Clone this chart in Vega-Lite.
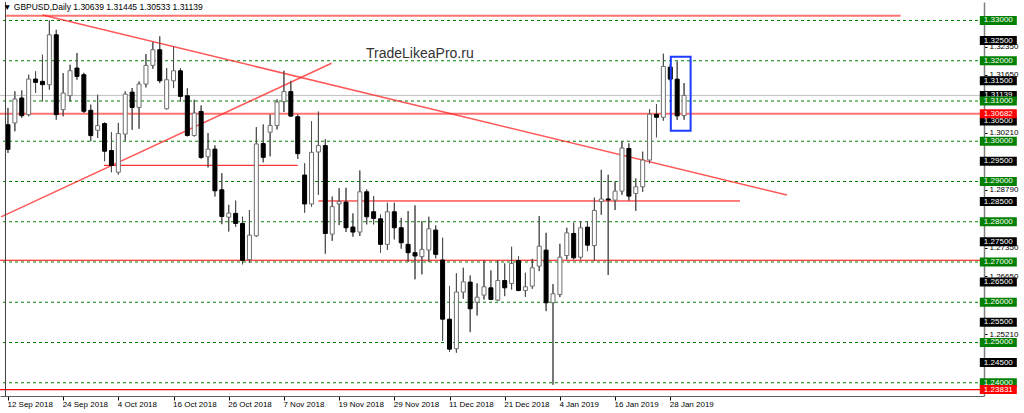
{
  "$schema": "https://vega.github.io/schema/vega-lite/v6.json",
  "width": 984,
  "height": 394,
  "autosize": {"type": "none"},
  "padding": {"left": 0, "top": 2, "right": 40, "bottom": 17},
  "background": "white",
  "config": {
    "view": {"stroke": null},
    "font": "Liberation Sans",
    "axis": {"grid": false, "labelFont": "Liberation Sans", "labelFontSize": 8, "labelColor": "#000000", "tickColor": "#000000", "labelOverlap": false, "labelFlush": false, "labelBound": false}
  },
  "title": {"text": "▼ GBPUSD,Daily 1.30639 1.31445 1.30533 1.31139", "anchor": "start", "orient": "top", "offset": 0, "baseline": "bottom", "dx": 4, "dy": 19, "fontSize": 8.5, "font": "Liberation Sans", "fontWeight": "normal", "color": "#000000"},
  "datasets": {
    "candles": [
      {"bar":0,"date":"2018-09-12","o":1.3041,"h":1.3083,"l":1.2971,"c":1.2980},
      {"bar":1,"date":"2018-09-13","o":1.30455,"h":1.3124,"l":1.30248,"c":1.3105},
      {"bar":2,"date":"2018-09-14","o":1.31074,"h":1.31264,"l":1.30579,"c":1.30636},
      {"bar":3,"date":"2018-09-17","o":1.30661,"h":1.31653,"l":1.3062,"c":1.31545},
      {"bar":4,"date":"2018-09-18","o":1.31545,"h":1.31736,"l":1.31198,"c":1.31463},
      {"bar":5,"date":"2018-09-19","o":1.31488,"h":1.32149,"l":1.30992,"c":1.31405},
      {"bar":6,"date":"2018-09-20","o":1.31405,"h":1.33,"l":1.31281,"c":1.32645},
      {"bar":7,"date":"2018-09-21","o":1.32645,"h":1.32769,"l":1.30537,"c":1.30661},
      {"bar":8,"date":"2018-09-24","o":1.30785,"h":1.31694,"l":1.3062,"c":1.31198},
      {"bar":9,"date":"2018-09-25","o":1.31132,"h":1.31901,"l":1.30992,"c":1.31752},
      {"bar":10,"date":"2018-09-26","o":1.31818,"h":1.3219,"l":1.31529,"c":1.31612},
      {"bar":11,"date":"2018-09-27","o":1.31653,"h":1.317,"l":1.30702,"c":1.30744},
      {"bar":12,"date":"2018-09-28","o":1.30769,"h":1.3091,"l":1.3,"c":1.3014},
      {"bar":13,"date":"2018-10-01","o":1.30273,"h":1.31157,"l":1.30083,"c":1.30388},
      {"bar":14,"date":"2018-10-02","o":1.30438,"h":1.3047,"l":1.29504,"c":1.29752},
      {"bar":15,"date":"2018-10-03","o":1.29769,"h":1.30223,"l":1.29231,"c":1.29397},
      {"bar":16,"date":"2018-10-04","o":1.29231,"h":1.30455,"l":1.29174,"c":1.3019},
      {"bar":17,"date":"2018-10-05","o":1.30177,"h":1.31238,"l":1.30012,"c":1.31171},
      {"bar":18,"date":"2018-10-08","o":1.31221,"h":1.3132,"l":1.30285,"c":1.3084},
      {"bar":19,"date":"2018-10-09","o":1.3084,"h":1.31486,"l":1.3031,"c":1.3142},
      {"bar":20,"date":"2018-10-10","o":1.3142,"h":1.32166,"l":1.31337,"c":1.31884},
      {"bar":21,"date":"2018-10-11","o":1.31884,"h":1.32464,"l":1.31801,"c":1.32273},
      {"bar":22,"date":"2018-10-12","o":1.32273,"h":1.32605,"l":1.31445,"c":1.31503},
      {"bar":23,"date":"2018-10-15","o":1.30807,"h":1.31818,"l":1.3079,"c":1.31528},
      {"bar":24,"date":"2018-10-16","o":1.31503,"h":1.32356,"l":1.31321,"c":1.31751},
      {"bar":25,"date":"2018-10-17","o":1.31751,"h":1.31818,"l":1.30989,"c":1.31114},
      {"bar":26,"date":"2018-10-18","o":1.3113,"h":1.3132,"l":1.30119,"c":1.30144},
      {"bar":27,"date":"2018-10-19","o":1.30144,"h":1.31031,"l":1.30119,"c":1.30699},
      {"bar":28,"date":"2018-10-22","o":1.30741,"h":1.3089,"l":1.29564,"c":1.29597},
      {"bar":29,"date":"2018-10-23","o":1.29614,"h":1.30202,"l":1.29349,"c":1.29804},
      {"bar":30,"date":"2018-10-24","o":1.29804,"h":1.29896,"l":1.28628,"c":1.28769},
      {"bar":31,"date":"2018-10-25","o":1.28794,"h":1.29208,"l":1.2794,"c":1.28131},
      {"bar":32,"date":"2018-10-26","o":1.28114,"h":1.28421,"l":1.27758,"c":1.28214},
      {"bar":33,"date":"2018-10-29","o":1.28208,"h":1.28525,"l":1.27875,"c":1.27958},
      {"bar":34,"date":"2018-10-30","o":1.27958,"h":1.28125,"l":1.26942,"c":1.27042},
      {"bar":35,"date":"2018-10-31","o":1.27058,"h":1.28292,"l":1.26975,"c":1.27667},
      {"bar":36,"date":"2018-11-01","o":1.2765,"h":1.3035,"l":1.27625,"c":1.29933},
      {"bar":37,"date":"2018-11-02","o":1.29942,"h":1.30417,"l":1.29475,"c":1.296},
      {"bar":38,"date":"2018-11-05","o":1.30225,"h":1.30667,"l":1.29625,"c":1.30392},
      {"bar":39,"date":"2018-11-06","o":1.30392,"h":1.31042,"l":1.30292,"c":1.30975},
      {"bar":40,"date":"2018-11-07","o":1.30983,"h":1.3175,"l":1.30725,"c":1.31233},
      {"bar":41,"date":"2018-11-08","o":1.31233,"h":1.315,"l":1.30608,"c":1.30625},
      {"bar":42,"date":"2018-11-09","o":1.30608,"h":1.30667,"l":1.29558,"c":1.29692},
      {"bar":43,"date":"2018-11-12","o":1.2916,"h":1.2945,"l":1.28225,"c":1.28442},
      {"bar":44,"date":"2018-11-13","o":1.28442,"h":1.30493,"l":1.28375,"c":1.29725},
      {"bar":45,"date":"2018-11-14","o":1.29733,"h":1.30735,"l":1.28665,"c":1.29892},
      {"bar":46,"date":"2018-11-15","o":1.29892,"h":1.3005,"l":1.27205,"c":1.27708},
      {"bar":47,"date":"2018-11-16","o":1.27692,"h":1.28625,"l":1.27525,"c":1.28375},
      {"bar":48,"date":"2018-11-19","o":1.28442,"h":1.28833,"l":1.27917,"c":1.285},
      {"bar":49,"date":"2018-11-20","o":1.28488,"h":1.28843,"l":1.27744,"c":1.27851},
      {"bar":50,"date":"2018-11-21","o":1.27868,"h":1.28207,"l":1.27628,"c":1.27744},
      {"bar":51,"date":"2018-11-22","o":1.27744,"h":1.29273,"l":1.27645,"c":1.28744},
      {"bar":52,"date":"2018-11-23","o":1.28744,"h":1.28802,"l":1.27934,"c":1.28124},
      {"bar":53,"date":"2018-11-26","o":1.28248,"h":1.28636,"l":1.27934,"c":1.28083},
      {"bar":54,"date":"2018-11-27","o":1.28074,"h":1.28182,"l":1.27231,"c":1.27438},
      {"bar":55,"date":"2018-11-28","o":1.27438,"h":1.28471,"l":1.27298,"c":1.28248},
      {"bar":56,"date":"2018-11-29","o":1.28248,"h":1.28471,"l":1.27562,"c":1.27851},
      {"bar":57,"date":"2018-11-30","o":1.27851,"h":1.28099,"l":1.27331,"c":1.27479},
      {"bar":58,"date":"2018-12-03","o":1.27438,"h":1.28264,"l":1.27,"c":1.27231},
      {"bar":59,"date":"2018-12-04","o":1.27231,"h":1.28405,"l":1.2657,"c":1.27149},
      {"bar":60,"date":"2018-12-05","o":1.27132,"h":1.28017,"l":1.26694,"c":1.27314},
      {"bar":61,"date":"2018-12-06","o":1.27298,"h":1.28124,"l":1.27,"c":1.27826},
      {"bar":62,"date":"2018-12-07","o":1.27793,"h":1.27909,"l":1.2709,"c":1.2719},
      {"bar":63,"date":"2018-12-10","o":1.2705,"h":1.27603,"l":1.25041,"c":1.25579},
      {"bar":64,"date":"2018-12-11","o":1.25579,"h":1.26405,"l":1.24769,"c":1.24835},
      {"bar":65,"date":"2018-12-12","o":1.24844,"h":1.26717,"l":1.24748,"c":1.26254},
      {"bar":66,"date":"2018-12-13","o":1.26252,"h":1.26856,"l":1.26086,"c":1.26508},
      {"bar":67,"date":"2018-12-14","o":1.265,"h":1.26666,"l":1.25258,"c":1.25838},
      {"bar":68,"date":"2018-12-17","o":1.26003,"h":1.26467,"l":1.25672,"c":1.26127},
      {"bar":69,"date":"2018-12-18","o":1.26177,"h":1.27038,"l":1.2607,"c":1.26384},
      {"bar":70,"date":"2018-12-19","o":1.26359,"h":1.2679,"l":1.26053,"c":1.2607},
      {"bar":71,"date":"2018-12-20","o":1.26053,"h":1.27038,"l":1.26028,"c":1.26541},
      {"bar":72,"date":"2018-12-21","o":1.26541,"h":1.26964,"l":1.26152,"c":1.26359},
      {"bar":73,"date":"2018-12-24","o":1.26467,"h":1.27377,"l":1.26318,"c":1.26964},
      {"bar":74,"date":"2018-12-26","o":1.27038,"h":1.27146,"l":1.26276,"c":1.26293},
      {"bar":75,"date":"2018-12-27","o":1.26293,"h":1.26732,"l":1.26136,"c":1.26384},
      {"bar":76,"date":"2018-12-28","o":1.26401,"h":1.27079,"l":1.26334,"c":1.26856},
      {"bar":77,"date":"2018-12-31","o":1.26897,"h":1.28139,"l":1.26773,"c":1.27394},
      {"bar":78,"date":"2019-01-02","o":1.27295,"h":1.27725,"l":1.2578,"c":1.25987},
      {"bar":79,"date":"2019-01-03","o":1.25987,"h":1.2645,"l":1.2395,"c":1.2621},
      {"bar":80,"date":"2019-01-04","o":1.26194,"h":1.27452,"l":1.26127,"c":1.27121},
      {"bar":81,"date":"2019-01-07","o":1.27162,"h":1.2785,"l":1.27063,"c":1.27725},
      {"bar":82,"date":"2019-01-08","o":1.27709,"h":1.27974,"l":1.27063,"c":1.27104},
      {"bar":83,"date":"2019-01-09","o":1.27119,"h":1.28015,"l":1.27061,"c":1.27849},
      {"bar":84,"date":"2019-01-10","o":1.27866,"h":1.28015,"l":1.27269,"c":1.27418},
      {"bar":85,"date":"2019-01-11","o":1.2741,"h":1.286,"l":1.2703,"c":1.2828},
      {"bar":86,"date":"2019-01-14","o":1.285,"h":1.2929,"l":1.2817,"c":1.28566},
      {"bar":87,"date":"2019-01-15","o":1.28566,"h":1.29168,"l":1.26678,"c":1.2854},
      {"bar":88,"date":"2019-01-16","o":1.28537,"h":1.29,"l":1.2829,"c":1.28761},
      {"bar":89,"date":"2019-01-17","o":1.28761,"h":1.29995,"l":1.2867,"c":1.29832},
      {"bar":90,"date":"2019-01-18","o":1.2982,"h":1.29948,"l":1.28525,"c":1.28637},
      {"bar":91,"date":"2019-01-21","o":1.28703,"h":1.29076,"l":1.28271,"c":1.28869},
      {"bar":92,"date":"2019-01-22","o":1.28869,"h":1.29741,"l":1.28744,"c":1.29533},
      {"bar":93,"date":"2019-01-23","o":1.29533,"h":1.30796,"l":1.2945,"c":1.30671},
      {"bar":94,"date":"2019-01-24","o":1.30671,"h":1.3092,"l":1.30098,"c":1.30596},
      {"bar":95,"date":"2019-01-25","o":1.30596,"h":1.32174,"l":1.30513,"c":1.31859},
      {"bar":96,"date":"2019-01-28","o":1.31842,"h":1.31925,"l":1.31485,"c":1.31543},
      {"bar":97,"date":"2019-01-29","o":1.31543,"h":1.31983,"l":1.3053,"c":1.3063},
      {"bar":98,"date":"2019-01-30","o":1.30639,"h":1.31445,"l":1.30533,"c":1.31139}
    ],
    "grid": [{"price":1.33},{"price":1.32},{"price":1.31},{"price":1.30},{"price":1.29},{"price":1.28},{"price":1.27},{"price":1.26},{"price":1.25},{"price":1.24}],
    "blackLabels": [{"price":1.31139},{"price":1.325},{"price":1.315},{"price":1.305},{"price":1.295},{"price":1.285},{"price":1.275},{"price":1.265},{"price":1.255},{"price":1.245}],
    "redLabels": [{"price":1.30682},{"price":1.23831}]
  },
  "layer": [
    {
      "data": {"name": "candles"},
      "mark": {"type": "rule", "color": "#4d4d4d", "strokeWidth": 1},
      "encoding": {
        "x": {"field": "bar", "type": "quantitative", "title": null,
          "scale": {"type": "linear", "domain": [-0.43, 140.75], "nice": false, "zero": false},
          "axis": {"orient": "bottom", "title": null, "values": [0, 8, 16, 24, 32, 40, 48, 56, 64, 72, 80, 88, 96], "labelExpr": "['12 Sep 2018','24 Sep 2018','4 Oct 2018','16 Oct 2018','26 Oct 2018','7 Nov 2018','19 Nov 2018','29 Nov 2018','11 Dec 2018','21 Dec 2018','4 Jan 2019','16 Jan 2019','28 Jan 2019'][round(datum.value/8)]", "labelAlign": "left", "labelBaseline": "top", "labelPadding": 0, "labelOffset": -1, "tickSize": 4, "domainColor": "#606060"}},
        "y": {"field": "l", "type": "quantitative", "title": null,
          "scale": {"type": "linear", "domain": [1.236708, 1.334596], "nice": false, "zero": false},
          "axis": {"orient": "right", "title": null, "values": [1.3235, 1.3165, 1.3021, 1.2879, 1.2735, 1.2665, 1.2521], "format": ".5f", "tickSize": 3, "domainColor": "#808080", "domainWidth": 1.5, "labelPadding": 2}},
        "y2": {"field": "h"}
      }
    },
    {
      "data": {"name": "grid"},
      "mark": {"type": "rule", "color": "#008000", "strokeDash": [3, 3], "strokeWidth": 1},
      "encoding": {
        "y": {"field": "price", "type": "quantitative", "title": null, "scale": {"type": "linear", "domain": [1.236708, 1.334596], "nice": false, "zero": false}}
      }
    },
    {
      "data": {"values": [{"price": 1.31139}]},
      "mark": {"type": "rule", "color": "#c0c0c0", "strokeWidth": 1},
      "encoding": {
        "y": {"field": "price", "type": "quantitative", "title": null, "scale": {"type": "linear", "domain": [1.236708, 1.334596], "nice": false, "zero": false}}
      }
    },
    {
      "data": {"values": [{"price": 1.30682}]},
      "mark": {"type": "rule", "color": "#ff0000", "opacity": 0.55, "strokeWidth": 2},
      "encoding": {
        "y": {"field": "price", "type": "quantitative", "title": null, "scale": {"type": "linear", "domain": [1.236708, 1.334596], "nice": false, "zero": false}}
      }
    },
    {
      "data": {"values": [{"price": 1.27043}, {"price": 1.23831}]},
      "mark": {"type": "rule", "color": "#ff0000", "strokeWidth": 1.2},
      "encoding": {
        "y": {"field": "price", "type": "quantitative", "title": null, "scale": {"type": "linear", "domain": [1.236708, 1.334596], "nice": false, "zero": false}}
      }
    },
    {
      "data": {"values": [{"from": -0.43, "to": 129.4, "price": 1.33119}]},
      "mark": {"type": "rule", "color": "#ff0000", "opacity": 0.55, "strokeWidth": 2},
      "encoding": {
        "x": {"field": "from", "type": "quantitative", "title": null, "scale": {"type": "linear", "domain": [-0.43, 140.75], "nice": false, "zero": false}},
        "x2": {"field": "to"},
        "y": {"field": "price", "type": "quantitative", "title": null, "scale": {"type": "linear", "domain": [1.236708, 1.334596], "nice": false, "zero": false}}
      }
    },
    {
      "data": {"values": [{"from": 13.9, "to": 42.0, "price": 1.29402}, {"from": 45.0, "to": 106.1, "price": 1.28516}]},
      "mark": {"type": "rule", "color": "#ff0000", "strokeWidth": 1},
      "encoding": {
        "x": {"field": "from", "type": "quantitative", "title": null, "scale": {"type": "linear", "domain": [-0.43, 140.75], "nice": false, "zero": false}},
        "x2": {"field": "to"},
        "y": {"field": "price", "type": "quantitative", "title": null, "scale": {"type": "linear", "domain": [1.236708, 1.334596], "nice": false, "zero": false}}
      }
    },
    {
      "data": {"values": [{"x1": 5.02, "p1": 1.33137, "x2": 112.9, "p2": 1.28665}, {"x1": -1, "p1": 1.28122, "x2": 46.9, "p2": 1.31937}]},
      "mark": {"type": "rule", "color": "#ff2020", "opacity": 0.75, "strokeWidth": 1.5, "clip": true},
      "encoding": {
        "x": {"field": "x1", "type": "quantitative", "title": null, "scale": {"type": "linear", "domain": [-0.43, 140.75], "nice": false, "zero": false}},
        "x2": {"field": "x2"},
        "y": {"field": "p1", "type": "quantitative", "title": null, "scale": {"type": "linear", "domain": [1.236708, 1.334596], "nice": false, "zero": false}},
        "y2": {"field": "p2"}
      }
    },
    {
      "data": {"name": "candles"},
      "mark": {"type": "rule", "color": "#4d4d4d", "strokeWidth": 1},
      "encoding": {
        "x": {"field": "bar", "type": "quantitative", "title": null, "scale": {"type": "linear", "domain": [-0.43, 140.75], "nice": false, "zero": false}},
        "y": {"field": "l", "type": "quantitative", "title": null, "scale": {"type": "linear", "domain": [1.236708, 1.334596], "nice": false, "zero": false}},
        "y2": {"field": "h"}
      }
    },
    {
      "data": {"name": "candles"},
      "mark": {"type": "bar", "width": 4, "strokeWidth": 1},
      "encoding": {
        "x": {"field": "bar", "type": "quantitative", "title": null, "scale": {"type": "linear", "domain": [-0.43, 140.75], "nice": false, "zero": false}},
        "y": {"field": "o", "type": "quantitative", "title": null, "scale": {"type": "linear", "domain": [1.236708, 1.334596], "nice": false, "zero": false}},
        "y2": {"field": "c"},
        "fill": {"condition": {"test": "datum.c >= datum.o", "value": "#ffffff"}, "value": "#000000"},
        "stroke": {"condition": {"test": "datum.c >= datum.o", "value": "#6e6e6e"}, "value": "#000000"}
      }
    },
    {
      "data": {"values": [{"from": 96.08, "to": 98.95, "top": 1.32101, "bottom": 1.30262}]},
      "mark": {"type": "rect", "fill": null, "fillOpacity": 0, "stroke": "#1e3cff", "strokeWidth": 2},
      "encoding": {
        "x": {"field": "from", "type": "quantitative", "title": null, "scale": {"type": "linear", "domain": [-0.43, 140.75], "nice": false, "zero": false}},
        "x2": {"field": "to"},
        "y": {"field": "top", "type": "quantitative", "title": null, "scale": {"type": "linear", "domain": [1.236708, 1.334596], "nice": false, "zero": false}},
        "y2": {"field": "bottom"}
      }
    },
    {
      "data": {"values": [{"text": "TradeLikeaPro.ru", "bar": 51.9, "price": 1.32168}]},
      "mark": {"type": "text", "align": "left", "baseline": "middle", "font": "Liberation Sans", "fontSize": 14, "color": "#333333"},
      "encoding": {
        "x": {"field": "bar", "type": "quantitative", "title": null, "scale": {"type": "linear", "domain": [-0.43, 140.75], "nice": false, "zero": false}},
        "y": {"field": "price", "type": "quantitative", "title": null, "scale": {"type": "linear", "domain": [1.236708, 1.334596], "nice": false, "zero": false}},
        "text": {"field": "text"}
      }
    },
    {
      "data": {"values": [{"edge": -0.36}]},
      "mark": {"type": "rule", "color": "#404040", "strokeWidth": 1},
      "encoding": {
        "x": {"field": "edge", "type": "quantitative", "title": null, "scale": {"type": "linear", "domain": [-0.43, 140.75], "nice": false, "zero": false}}
      }
    },
    {
      "data": {"name": "blackLabels"},
      "mark": {"type": "tick", "orient": "horizontal", "size": 37, "thickness": 9, "color": "#000000", "opacity": 1},
      "encoding": {
        "x": {"datum": 143.55, "type": "quantitative", "title": null, "scale": {"type": "linear", "domain": [-0.43, 140.75], "nice": false, "zero": false}},
        "y": {"field": "price", "type": "quantitative", "title": null, "scale": {"type": "linear", "domain": [1.236708, 1.334596], "nice": false, "zero": false}}
      }
    },
    {
      "data": {"name": "blackLabels"},
      "mark": {"type": "text", "align": "center", "baseline": "middle", "font": "Liberation Sans", "fontSize": 8, "color": "#ffffff"},
      "encoding": {
        "x": {"datum": 143.55, "type": "quantitative", "title": null, "scale": {"type": "linear", "domain": [-0.43, 140.75], "nice": false, "zero": false}},
        "y": {"field": "price", "type": "quantitative", "title": null, "scale": {"type": "linear", "domain": [1.236708, 1.334596], "nice": false, "zero": false}},
        "text": {"field": "price", "type": "quantitative", "format": ".5f"}
      }
    },
    {
      "data": {"name": "grid"},
      "mark": {"type": "tick", "orient": "horizontal", "size": 37, "thickness": 9, "color": "#008000", "opacity": 1},
      "encoding": {
        "x": {"datum": 143.55, "type": "quantitative", "title": null, "scale": {"type": "linear", "domain": [-0.43, 140.75], "nice": false, "zero": false}},
        "y": {"field": "price", "type": "quantitative", "title": null, "scale": {"type": "linear", "domain": [1.236708, 1.334596], "nice": false, "zero": false}}
      }
    },
    {
      "data": {"name": "grid"},
      "mark": {"type": "text", "align": "center", "baseline": "middle", "font": "Liberation Sans", "fontSize": 8, "color": "#ffffff"},
      "encoding": {
        "x": {"datum": 143.55, "type": "quantitative", "title": null, "scale": {"type": "linear", "domain": [-0.43, 140.75], "nice": false, "zero": false}},
        "y": {"field": "price", "type": "quantitative", "title": null, "scale": {"type": "linear", "domain": [1.236708, 1.334596], "nice": false, "zero": false}},
        "text": {"field": "price", "type": "quantitative", "format": ".5f"}
      }
    },
    {
      "data": {"name": "redLabels"},
      "mark": {"type": "tick", "orient": "horizontal", "size": 37, "thickness": 9, "color": "#ff0000", "opacity": 1},
      "encoding": {
        "x": {"datum": 143.55, "type": "quantitative", "title": null, "scale": {"type": "linear", "domain": [-0.43, 140.75], "nice": false, "zero": false}},
        "y": {"field": "price", "type": "quantitative", "title": null, "scale": {"type": "linear", "domain": [1.236708, 1.334596], "nice": false, "zero": false}}
      }
    },
    {
      "data": {"name": "redLabels"},
      "mark": {"type": "text", "align": "center", "baseline": "middle", "font": "Liberation Sans", "fontSize": 8, "color": "#ffffff"},
      "encoding": {
        "x": {"datum": 143.55, "type": "quantitative", "title": null, "scale": {"type": "linear", "domain": [-0.43, 140.75], "nice": false, "zero": false}},
        "y": {"field": "price", "type": "quantitative", "title": null, "scale": {"type": "linear", "domain": [1.236708, 1.334596], "nice": false, "zero": false}},
        "text": {"field": "price", "type": "quantitative", "format": ".5f"}
      }
    }
  ]
}
